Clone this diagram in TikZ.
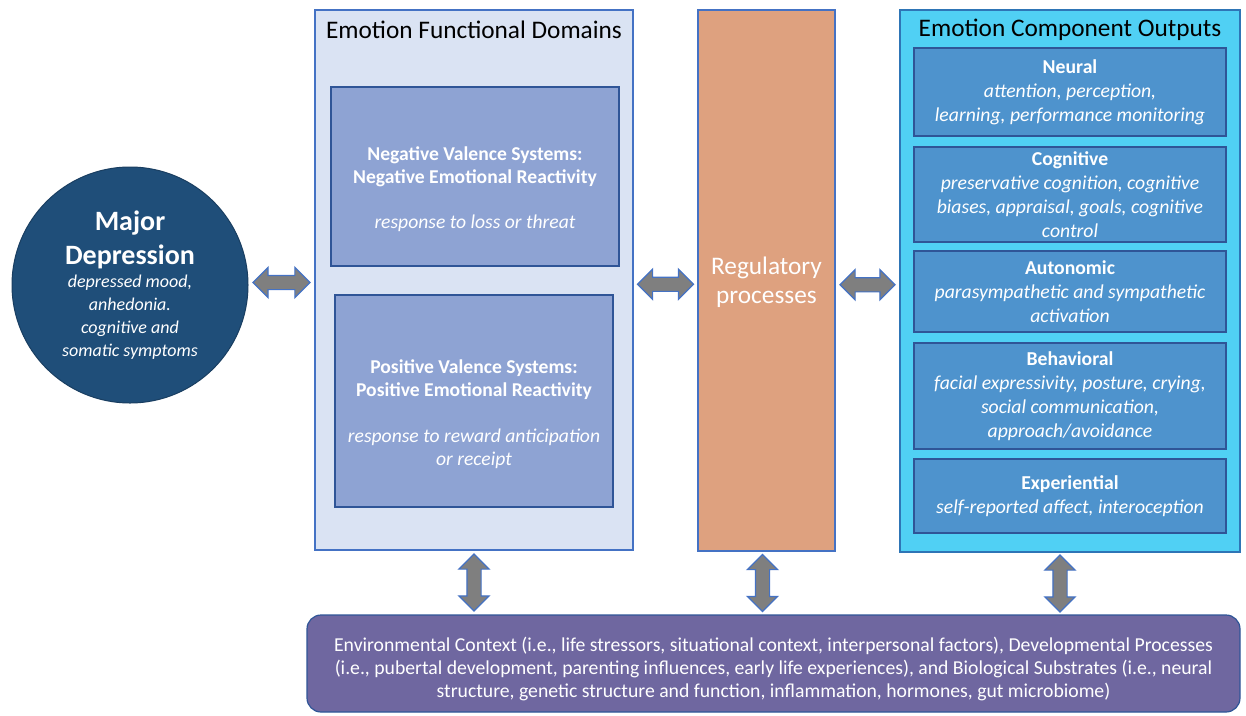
\documentclass[tikz,border=0pt]{standalone}
\usepackage{fontspec}
\setmainfont{Carlito}
\usetikzlibrary{shapes.arrows, calc}
\definecolor{depblue}{HTML}{1F4E79}
\definecolor{domfill}{HTML}{DAE3F3}
\definecolor{domedge}{HTML}{4472C4}
\definecolor{valfill}{HTML}{8EA3D3}
\definecolor{darkedge}{HTML}{2F5597}
\definecolor{regfill}{HTML}{DEA17F}
\definecolor{outfill}{HTML}{50D0F4}
\definecolor{outedge}{HTML}{2E75B6}
\definecolor{compfill}{HTML}{4E93CD}
\definecolor{ctxfill}{HTML}{6F67A0}
\definecolor{arrowgray}{HTML}{7F7F7F}

\begin{document}
\begin{tikzpicture}[x=1pt, y=-1pt,
    box/.style={draw, line width=1.2pt, inner sep=0pt},
    panel/.style={box, fill=domfill, draw=domedge},
    valbox/.style={box, fill=valfill, draw=darkedge},
    valtext/.style={text=white, align=center, font=\fontsize{19.6}{23}\selectfont},
    compbox/.style={box, fill=compfill, draw=darkedge, minimum width=312pt,
        text=white, align=center, font=\fontsize{19.7}{24}\selectfont},
    heading/.style={font=\fontsize{25.3}{28}\selectfont},
    dblarrow/.style={double arrow, draw=domedge, fill=arrowgray, line width=1.2pt,
        inner xsep=0pt, inner ysep=6.5pt, minimum width=0pt, double arrow head extend=8pt,
        minimum height=57pt}
  ]
  \useasboundingbox (0,0) rectangle (1246,715);

  % left: the disorder
  \node[circle, fill=depblue, draw=depblue!80!black, line width=1pt, minimum size=236pt,
        text=white, align=center, inner sep=0pt, font=\fontsize{18}{23}\selectfont] (dep) at (130,285)
       {{\fontsize{28}{34}\selectfont\bfseries Major}\\[9pt]
        {\fontsize{28}{34}\selectfont\bfseries Depression}\\[0pt]
        \textit{depressed mood,}\\
        \textit{anhedonia.}\\
        \textit{cognitive and}\\
        \textit{somatic symptoms}};

  % functional domains
  \node[panel, minimum width=318pt, minimum height=540pt] (efd) at (474,280) {};
  \node[heading] (efdtitle) at (474,30) {Emotion Functional Domains};
  \node[valbox, minimum width=288pt, minimum height=179pt] (neg) at (475,176.5) {};
  \node[valtext] (negtext) at ([yshift=-13pt]neg.center)
       {\textbf{Negative Valence Systems:}\\\textbf{Negative Emotional Reactivity}\\[22pt]
        \textit{response to loss or threat}};
  \node[valbox, minimum width=278pt, minimum height=212pt] (pos) at (474,401) {};
  \node[valtext] (postext) at ([yshift=-13pt]pos.center)
       {\textbf{Positive Valence Systems:}\\\textbf{Positive Emotional Reactivity}\\[23pt]
        \textit{response to reward anticipation}\\\textit{or receipt}};

  % regulation
  \node[box, fill=regfill, draw=domedge, minimum width=137pt, minimum height=541pt] (reg) at (766.5,280.5) {};
  \node[text=white, align=center, font=\fontsize{25.3}{29}\selectfont] (regtext) at ([yshift=-2pt]reg.center)
       {Regulatory\\processes};

  % component outputs
  \node[box, fill=outfill, draw=outedge, minimum width=340pt, minimum height=542pt] (eco) at (1070,281) {};
  \node[heading] (ecotitle) at (1070,30) {Emotion Component Outputs};
  \node[compbox, minimum height=88pt] (neural) at (1070,92)
       {\textbf{Neural}\\\textit{attention, perception,}\\\textit{learning, performance monitoring}};
  \node[compbox, minimum height=95pt] (cogn) at (1070,194.5)
       {\textbf{Cognitive}\\\textit{preservative cognition, cognitive}\\\textit{biases, appraisal, goals, cognitive}\\\textit{control}};
  \node[compbox, minimum height=81pt] (auton) at (1070,291.5)
       {\textbf{Autonomic}\\\textit{parasympathetic and sympathetic}\\\textit{activation}};
  \node[compbox, minimum height=106pt] (behav) at (1070,396)
       {\textbf{Behavioral}\\\textit{facial expressivity, posture, crying,}\\\textit{social communication,}\\\textit{approach/avoidance}};
  \node[compbox, minimum height=74pt] (exper) at (1070,496)
       {\textbf{Experiential}\\\textit{self-reported affect, interoception}};

  % context along the bottom
  \node[box, rounded corners=14pt, fill=ctxfill, draw=darkedge, minimum width=933pt, minimum height=97pt] (ctx) at (773.5,663.5) {};
  \node[text=white, align=center, font=\fontsize{19.7}{23}\selectfont] (ctxtext) at ([yshift=-5pt]ctx.center)
       {Environmental Context (i.e., life stressors, situational context, interpersonal factors), Developmental Processes\\
        (i.e., pubertal development, parenting influences, early life experiences), and Biological Substrates (i.e., neural\\
        structure, genetic structure and function, inflammation, hormones, gut microbiome)};

  % two-way arrows
  \node[dblarrow] (depefd) at ($(dep.east)!0.5!(efd.west)$) {};
  \node[dblarrow, minimum height=56pt] (efdreg) at ($(efd.east)!0.5!(reg.west) + (0,4)$) {};
  \node[dblarrow, minimum height=55pt] (regeco) at ($(reg.east)!0.5!(eco.west) + (0,4)$) {};
  \node[dblarrow, rotate=90] (efdctx) at ($(efd.south)!0.5!(efd.south |- ctx.north)$) {};
  \node[dblarrow, rotate=90] (regctx) at ($(reg.south)!0.5!(reg.south |- ctx.north) + (-4,0)$) {};
  \node[dblarrow, rotate=90] (ecoctx) at ($(eco.south)!0.5!(eco.south |- ctx.north) + (-10,0)$) {};
\end{tikzpicture}
\end{document}
